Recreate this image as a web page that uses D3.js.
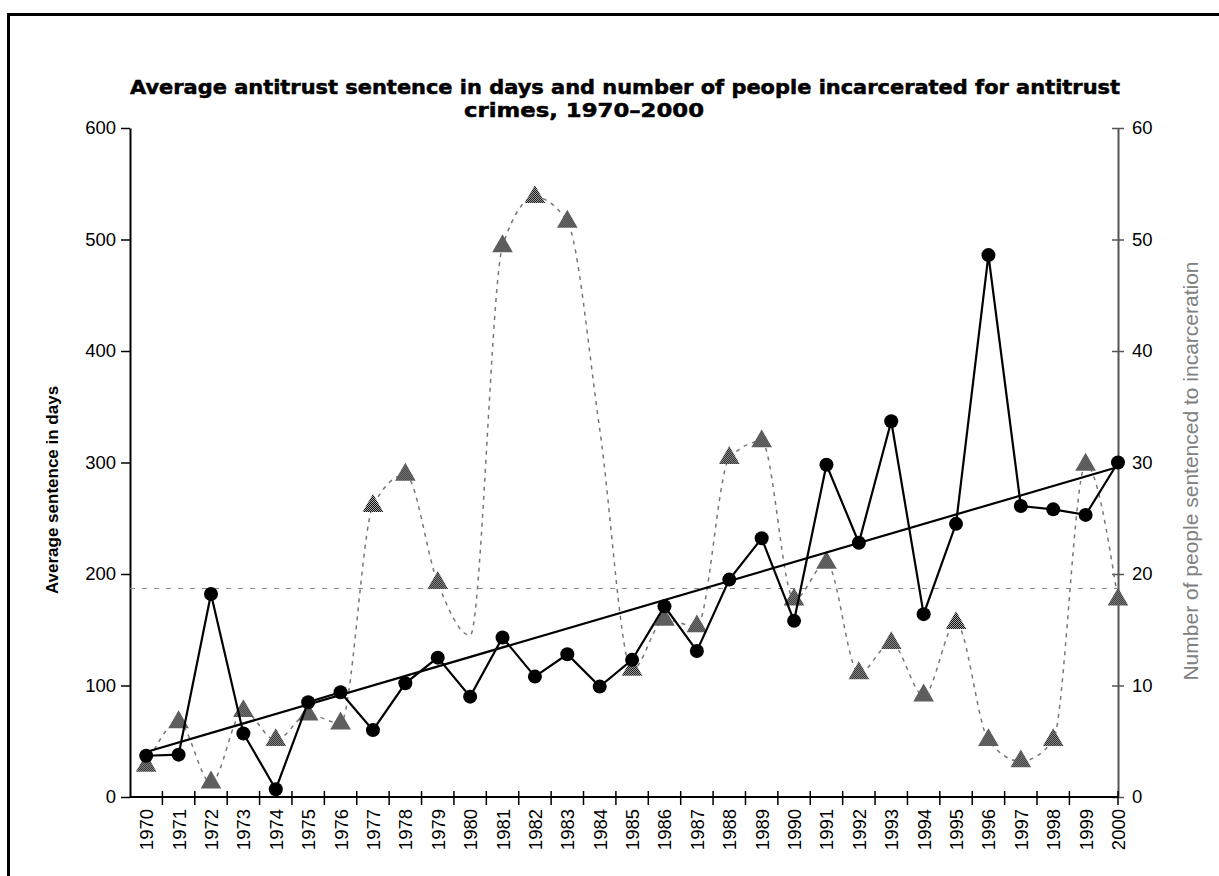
<!DOCTYPE html>
<html>
<head>
<meta charset="utf-8">
<script src="https://cdn.jsdelivr.net/npm/d3@7"></script>
<style>
  body { margin: 0; background: #fff; }
  text { font-family: "Liberation Sans", Arial, sans-serif; }
</style>
</head>
<body>
<svg id="chart" width="1219" height="876"></svg>
<script>
// values
const years = [1970, 1971, 1972, 1973, 1974, 1975, 1976, 1977, 1978, 1979,
  1980, 1981, 1982, 1983, 1984, 1985, 1986, 1987, 1988, 1989,
  1990, 1991, 1992, 1993, 1994, 1995, 1996, 1997, 1998, 1999, 2000];
const avgDays = [37, 38, 182, 57, 7, 85, 94, 60, 102, 125,
  90, 143, 108, 128, 99, 123, 171, 131, 195, 232,
  158, 298, 228, 337, 164, 245, 486, 261, 258, 253, 300];
const peopleJailed = [2.8, 6.7, 1.3, 7.7, 5.1, 7.4, 6.6, 26.1, 28.9, 19.2,
  14.5, 49.4, 53.8, 51.6, 33, 11.4, 15.9, 15.3, 30.4, 31.9,
  17.7, 21.0, 11.1, 13.8, 9.1, 15.6, 5.1, 3.2, 5.1, 29.8, 17.7];
const noMarkerYears = [1980, 1984];   // no triangle printed for these
const meanPeople = 18.7;
const trendDays = [[1970, 40.4], [2000, 296]];
const leftTicks = [0, 100, 200, 300, 400, 500, 600];
const rightTicks = [0, 10, 20, 30, 40, 50, 60];
const titleLines = ["Average antitrust sentence in days and number of people incarcerated for antitrust",
  "crimes, 1970\u20132000"];

const svg = d3.select("#chart");
const plotL = 130, plotR = 1118, plotT = 128, plotB = 797;

// frame
svg.append("rect").attr("x", 8.5).attr("y", 14.5).attr("width", 1240).attr("height", 900)
  .attr("fill", "none").attr("stroke", "#000").attr("stroke-width", 3);

// dither fill like the printed triangles
const pat = svg.append("defs").append("pattern").attr("id", "dither")
  .attr("width", 2).attr("height", 2).attr("patternUnits", "userSpaceOnUse");
pat.append("rect").attr("width", 2).attr("height", 2).attr("fill", "#bbb");
pat.append("rect").attr("width", 1).attr("height", 1).attr("fill", "#000");
pat.append("rect").attr("x", 1).attr("y", 1).attr("width", 1).attr("height", 1).attr("fill", "#000");

// title
const titleStyle = t => t.attr("text-anchor", "middle")
  .style("font-family", "'DejaVu Sans', sans-serif").style("font-weight", "bold").style("font-size", "19px")
  .attr("stroke", "#000").attr("stroke-width", 0.5).attr("lengthAdjust", "spacingAndGlyphs");
svg.append("text").attr("x", 625).attr("y", 94).call(titleStyle)
  .attr("textLength", 990).text(titleLines[0]);
svg.append("text").attr("x", 584).attr("y", 117).call(titleStyle)
  .attr("textLength", 240).text(titleLines[1]);

const step = (plotR - plotL) / (years.length - 0.5);
const x = d3.scalePoint().domain(years).range([plotL + step / 2, plotR]);
const yL = d3.scaleLinear().domain([0, 600]).range([plotB, plotT]);
const yR = d3.scaleLinear().domain([0, 60]).range([plotB, plotT]);

// left axis
const gL = svg.append("g").attr("transform", `translate(${plotL},0)`)
  .call(d3.axisLeft(yL).tickValues(leftTicks).tickSize(9).tickSizeOuter(0).tickPadding(5));
gL.select(".domain").attr("stroke-width", 2);
gL.selectAll(".tick line").attr("stroke-width", 1.5);
gL.selectAll("text").style("font-size", "18.5px").attr("fill", "#000");

// right axis
const gR = svg.append("g").attr("transform", `translate(${plotR},0)`)
  .call(d3.axisRight(yR).tickValues(rightTicks).tickSize(6).tickSizeOuter(0).tickPadding(8));
gR.select(".domain").attr("stroke", "#555").attr("stroke-width", 2);
gR.selectAll(".tick line").attr("x1", -6).attr("stroke", "#555").attr("stroke-width", 1.5);
gR.selectAll("text").style("font-size", "18.5px").attr("fill", "#000");

// bottom axis: labels on years, ticks between years
const gX = svg.append("g").attr("transform", `translate(0,${plotB})`)
  .call(d3.axisBottom(x).tickSize(0));
gX.select(".domain").remove();
gX.selectAll("text").attr("transform", "rotate(-90)").attr("x", -12).attr("y", 0)
  .attr("dy", "0.35em").attr("text-anchor", "end").style("font-size", "18.5px").attr("fill", "#000");
gX.append("line").attr("x1", plotL).attr("x2", plotR).attr("stroke", "#000").attr("stroke-width", 2);
const tickXs = years.slice(1, -1).map(d => x(d) - step / 2).concat([x(years[years.length - 1])]);
gX.selectAll(".between").data(tickXs).enter().append("line").attr("class", "between")
  .attr("x1", d => d).attr("x2", d => d).attr("y1", -6).attr("y2", 8)
  .attr("stroke", "#000").attr("stroke-width", 1.5);

// axis titles
svg.append("text").attr("transform", "translate(58,490) rotate(-90)").attr("text-anchor", "middle")
  .style("font-weight", "bold").style("font-size", "17px").text("Average sentence in days");
svg.append("text").attr("transform", "translate(1198,471) rotate(-90)").attr("text-anchor", "middle")
  .style("font-size", "21px").attr("fill", "#808080").text("Number of people sentenced to incarceration");

const rowsP = years.map((yr, i) => ({ year: yr, v: peopleJailed[i] }));
const rowsD = years.map((yr, i) => ({ year: yr, v: avgDays[i] }));

// mean line for people
svg.append("line").attr("x1", plotL).attr("x2", plotR).attr("y1", yR(meanPeople)).attr("y2", yR(meanPeople))
  .attr("stroke", "#888").attr("stroke-width", 1.2).attr("stroke-dasharray", "5,7");

// smoothed people curve
svg.append("path").datum(rowsP)
  .attr("d", d3.line().x(d => x(d.year)).y(d => yR(d.v)).curve(d3.curveMonotoneX))
  .attr("fill", "none").attr("stroke", "#777").attr("stroke-width", 1.5).attr("stroke-dasharray", "4,5");

svg.selectAll(".tri").data(rowsP.filter(d => !noMarkerYears.includes(d.year))).enter().append("path")
  .attr("class", "tri")
  .attr("transform", d => `translate(${x(d.year)},${yR(d.v)})`)
  .attr("d", d3.symbol().type(d3.symbolTriangle).size(185))
  .attr("fill", "url(#dither)");

// trend of sentence length
svg.append("path").datum(trendDays)
  .attr("d", d3.line().x(d => x(d[0])).y(d => yL(d[1])))
  .attr("stroke", "#000").attr("stroke-width", 2.2).attr("fill", "none");

// sentence series
svg.append("path").datum(rowsD)
  .attr("d", d3.line().x(d => x(d.year)).y(d => yL(d.v)))
  .attr("fill", "none").attr("stroke", "#000").attr("stroke-width", 2.2);
svg.selectAll(".dot").data(rowsD).enter().append("circle").attr("class", "dot")
  .attr("cx", d => x(d.year)).attr("cy", d => yL(d.v)).attr("r", 7).attr("fill", "#000");
</script>
</body>
</html>
